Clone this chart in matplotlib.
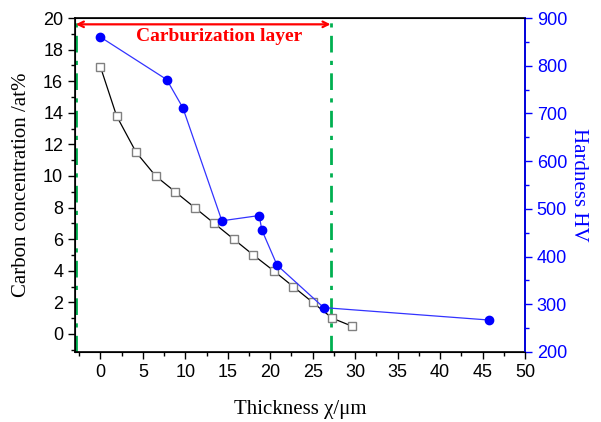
import matplotlib.pyplot as plt
from matplotlib.ticker import MultipleLocator

# carbon concentration profile (left axis)
carbon_x = [0, 1.9, 4.2, 6.5, 8.8, 11.1, 13.4, 15.7, 18.0, 20.4, 22.7, 25.0, 27.3, 29.6]
carbon_y = [16.9, 13.8, 11.5, 10.0, 9.0, 8.0, 7.0, 6.0, 5.0, 4.0, 3.0, 2.0, 1.0, 0.5]

# microhardness profile (right axis)
hard_x = [0, 7.8, 9.7, 14.3, 18.7, 19.0, 20.8, 26.3, 45.75]
hard_y = [860, 771, 712, 475, 486, 456, 382, 293, 267]

layer_start = -2.9
layer_end = 27.1

plt.rcParams['font.family'] = ['Liberation Sans', 'DejaVu Sans']
serif = ['Liberation Serif', 'DejaVu Serif']

fig = plt.figure(figsize=(6.01, 4.22), dpi=100)
ax = fig.add_axes([0.1248, 0.1659, 0.7487, 0.7914])

ax.plot(carbon_x, carbon_y, color='black', lw=0.9, marker='s', ms=5.5,
        mfc='white', mec='#808080', mew=1.0, zorder=3)
ax.set_xlim(-3, 50)
ax.set_ylim(-1.14, 20)
ax.xaxis.set_major_locator(MultipleLocator(5))
ax.xaxis.set_minor_locator(MultipleLocator(2.5))
ax.yaxis.set_major_locator(MultipleLocator(2))
ax.yaxis.set_minor_locator(MultipleLocator(1))
ax.tick_params(which='major', direction='out', length=5, width=1, labelsize=13)
ax.tick_params(which='minor', direction='out', length=3, width=1)
ax.tick_params(axis='y', which='both', right=False)
ax.set_xlabel('Thickness χ/μm', family=serif, fontsize=15, labelpad=14)
ax.set_ylabel('Carbon concentration /at%', family=serif, fontsize=15, labelpad=9)
for s in ax.spines.values():
    s.set_linewidth(1.2)

# carburized layer boundaries
for xv in (layer_start, layer_end):
    ax.axvline(xv, color='#00b050', lw=2, ls=(0, (6, 3, 1.5, 3)), zorder=2)
ax.annotate('', xy=(layer_start, 19.6), xytext=(layer_end, 19.6),
            arrowprops=dict(arrowstyle='<->', color='red', lw=1.6,
                            shrinkA=0, shrinkB=0))
ax.text(14.0, 18.85, 'Carburization layer', color='red', family=serif,
        fontsize=14, fontweight='bold', ha='center', va='center')

ax2 = ax.twinx()
ax2.plot(hard_x, hard_y, color='#3333ff', lw=0.9, marker='o', ms=6,
         mfc='blue', mec='blue', zorder=3)
ax2.set_ylim(200, 900)
ax2.yaxis.set_major_locator(MultipleLocator(100))
ax2.yaxis.set_minor_locator(MultipleLocator(50))
ax2.tick_params(which='major', direction='out', length=5, width=1,
                colors='blue', labelsize=13)
ax2.tick_params(which='minor', direction='out', length=3, width=1, colors='blue')
ax2.spines['right'].set_color('blue')
ax2.spines['right'].set_linewidth(1.2)
ax2.set_ylabel('Hardness HV', family=serif, fontsize=15, color='blue',
               rotation=-90, labelpad=15)

fig.savefig('out.png', dpi=100)
